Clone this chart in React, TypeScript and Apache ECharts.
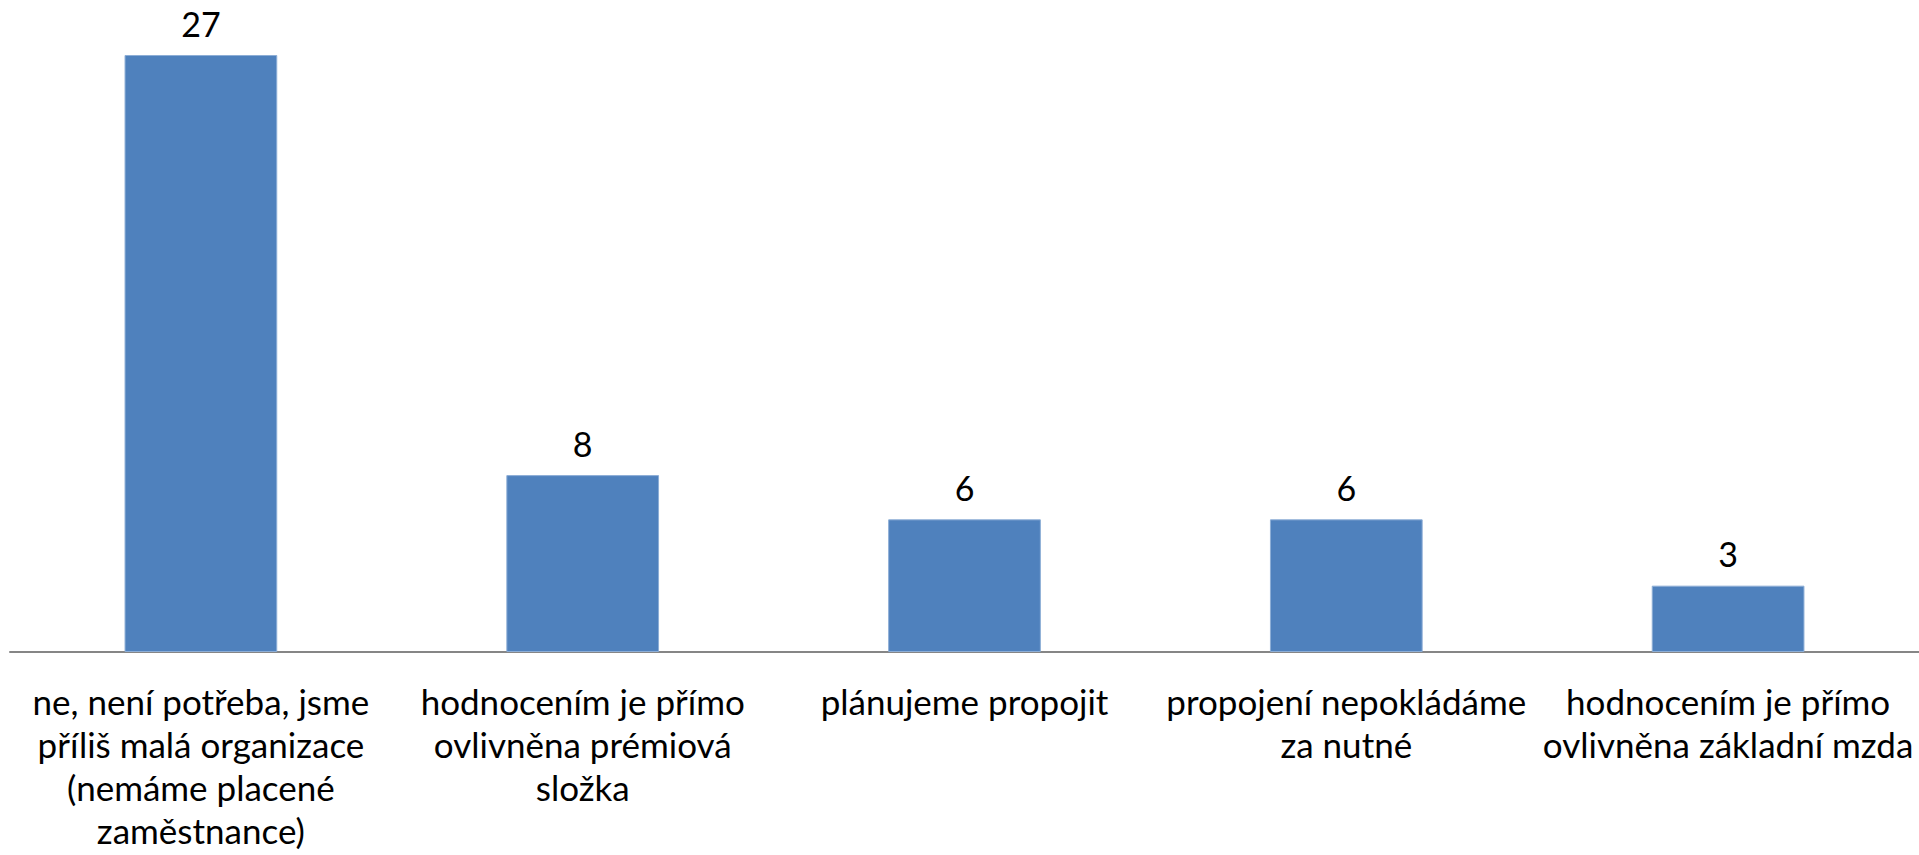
import React, { useEffect, useRef } from "react";
import * as echarts from "echarts";

const categories: string[] = [
  "ne, není potřeba, jsme\npříliš malá organizace\n(nemáme placené\nzaměstnance)",
  "hodnocením je přímo\novlivněna prémiová\nsložka",
  "plánujeme propojit",
  "propojení nepokládáme\nza nutné",
  "hodnocením je přímo\novlivněna základní mzda",
];
const values: number[] = [27, 8, 6, 6, 3];

const FONT = "Lato, 'Open Sans', sans-serif";

export default function App() {
  const ref = useRef<HTMLDivElement>(null);
  useEffect(() => {
    if (!ref.current) return;
    const chart = echarts.init(ref.current, undefined, { renderer: "svg" });
    chart.setOption({
      animation: false,
      backgroundColor: "#ffffff",
      grid: { left: 10, right: -4, top: 55, bottom: 203, containLabel: false },
      xAxis: {
        type: "category",
        data: categories,
        axisLine: { show: true, lineStyle: { color: "#868686", width: 2 } },
        axisTick: { show: false },
        axisLabel: {
          interval: 0,
          color: "#000000",
          fontFamily: FONT,
          fontSize: 35,
          lineHeight: 43,
          margin: 27,
        },
      },
      yAxis: {
        type: "value",
        min: 0,
        max: 27,
        show: false,
        splitLine: { show: false },
      },
      series: [
        {
          type: "bar",
          data: values,
          barWidth: "40%",
          itemStyle: { color: "#4F81BD", borderColor: "#8DAED6", borderWidth: 1 },
          label: {
            show: true,
            position: "top",
            distance: 15,
            color: "#000000",
            fontFamily: FONT,
            fontSize: 34,
          },
        },
      ],
    });
    return () => chart.dispose();
  }, []);
  return (
    <div
      ref={ref}
      style={{ position: "fixed", left: 0, top: 0, width: 1919, height: 855, background: "#fff" }}
    />
  );
}
